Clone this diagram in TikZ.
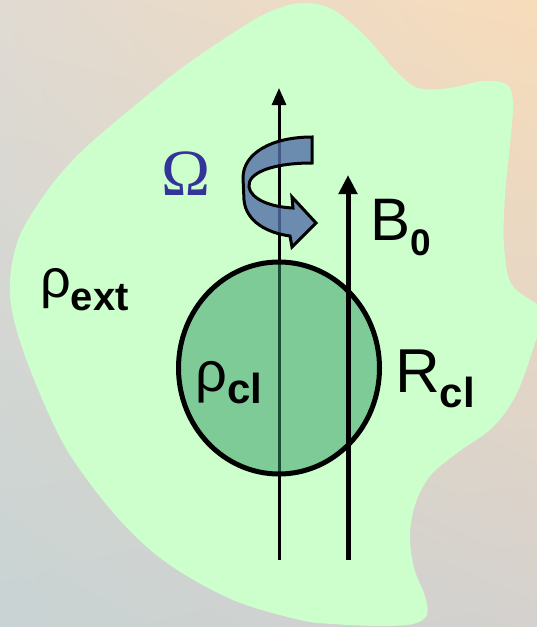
\documentclass[tikz,border=0pt]{standalone}
\usepackage{fontspec}
\setmainfont{Liberation Sans}
\newfontfamily\omegafont{Liberation Serif}
\usepackage{tikz}
\usetikzlibrary{arrows.meta, shapes.geometric, shadings}

\definecolor{skytl}{RGB}{224,218,210}
\definecolor{skytr}{RGB}{248,220,186}
\definecolor{skybl}{RGB}{200,211,211}
\definecolor{skybr}{RGB}{212,209,206}
\definecolor{blobgreen}{RGB}{204,255,204}
\definecolor{cloudgreen}{RGB}{51,153,102}
\definecolor{ribbonblue}{RGB}{84,112,168}
\definecolor{omegablue}{RGB}{51,51,153}

\begin{document}
\begin{tikzpicture}[x=1pt, y=-1pt,
  lbl/.style={inner sep=0pt, anchor=base west},
  thinaxis/.style={line width=3pt, -{Triangle[length=17pt,width=14pt]}},
  thickaxis/.style={line width=5pt, -{Triangle[length=19pt,width=18pt]}}]
  \useasboundingbox (0,0) rectangle (537,627);
  % background sky
  \shade[upper left=skytl, upper right=skytr, lower left=skybl, lower right=skybr]
    (0,0) rectangle (537,627);
  % outer medium
  \fill[blobgreen] plot[smooth cycle, tension=0.55] coordinates {
    (300,3) (332,9) (365,36) (395,70) (418,88) (450,88) (482,81) (506,84)
    (513,102) (510,145) (505,195) (504,245) (512,285) (545,312) (536,340)
    (517,393) (493,427) (457,453) (430,476) (415,505) (410,536) (414,568)
    (425,596) (427,615) (413,624) (380,626) (333,624) (300,620) (233,600)
    (167,563) (117,517) (67,450) (33,377) (14,320) (10,280) (20,235)
    (50,187) (83,150) (133,107) (183,67) (233,33) (267,13)};

  \coordinate (rotbot) at (279,560);
  \coordinate (rottop) at (279,88);
  \coordinate (fieldbot) at (348,560);
  \coordinate (fieldtop) at (348,175);

  \draw[thinaxis] (rotbot) -- (rottop);
  \node (cloud) [ellipse, draw, line width=5pt, fill=cloudgreen, fill opacity=0.5,
    draw opacity=1, minimum width=201pt, minimum height=212pt] at (279,368) {};
  \draw[thickaxis] (fieldbot) -- (fieldtop);

  % rotation ribbon
  \filldraw[line width=3pt, line join=miter, fill=ribbonblue, fill opacity=0.8]
    (312,137) .. controls (272,137) and (243,153) .. (243,178)
    -- (244,200) .. controls (246,222) and (268,233) .. (290,236)
    -- (292,247) -- (316,223) -- (292,197) -- (293,208)
    .. controls (270,207) and (251,199) .. (249,187)
    .. controls (247,173) and (272,163) .. (312,163) -- cycle;

  \node (omega) [lbl, text=omegablue] at (161,195)
    {\omegafont\fontsize{66}{66}\selectfont Ω};
  \node (bfield) [lbl] at (370,240)
    {\fontsize{60}{60}\selectfont B\raisebox{-15pt}{\fontsize{37}{37}\selectfont\bfseries 0}};
  \node (rhoext) [lbl] at (40,297)
    {\fontsize{54}{54}\selectfont ρ\raisebox{-13pt}{\fontsize{40}{40}\selectfont\bfseries ext}};
  \node (rhocl) [lbl] at (195,391)
    {\fontsize{56}{56}\selectfont ρ\raisebox{-12pt}{\fontsize{42}{42}\selectfont\bfseries cl}};
  \node (rcl) [lbl] at (395,392)
    {\fontsize{62}{62}\selectfont R\raisebox{-15pt}{\fontsize{42}{42}\selectfont\bfseries cl}};
\end{tikzpicture}
\end{document}
